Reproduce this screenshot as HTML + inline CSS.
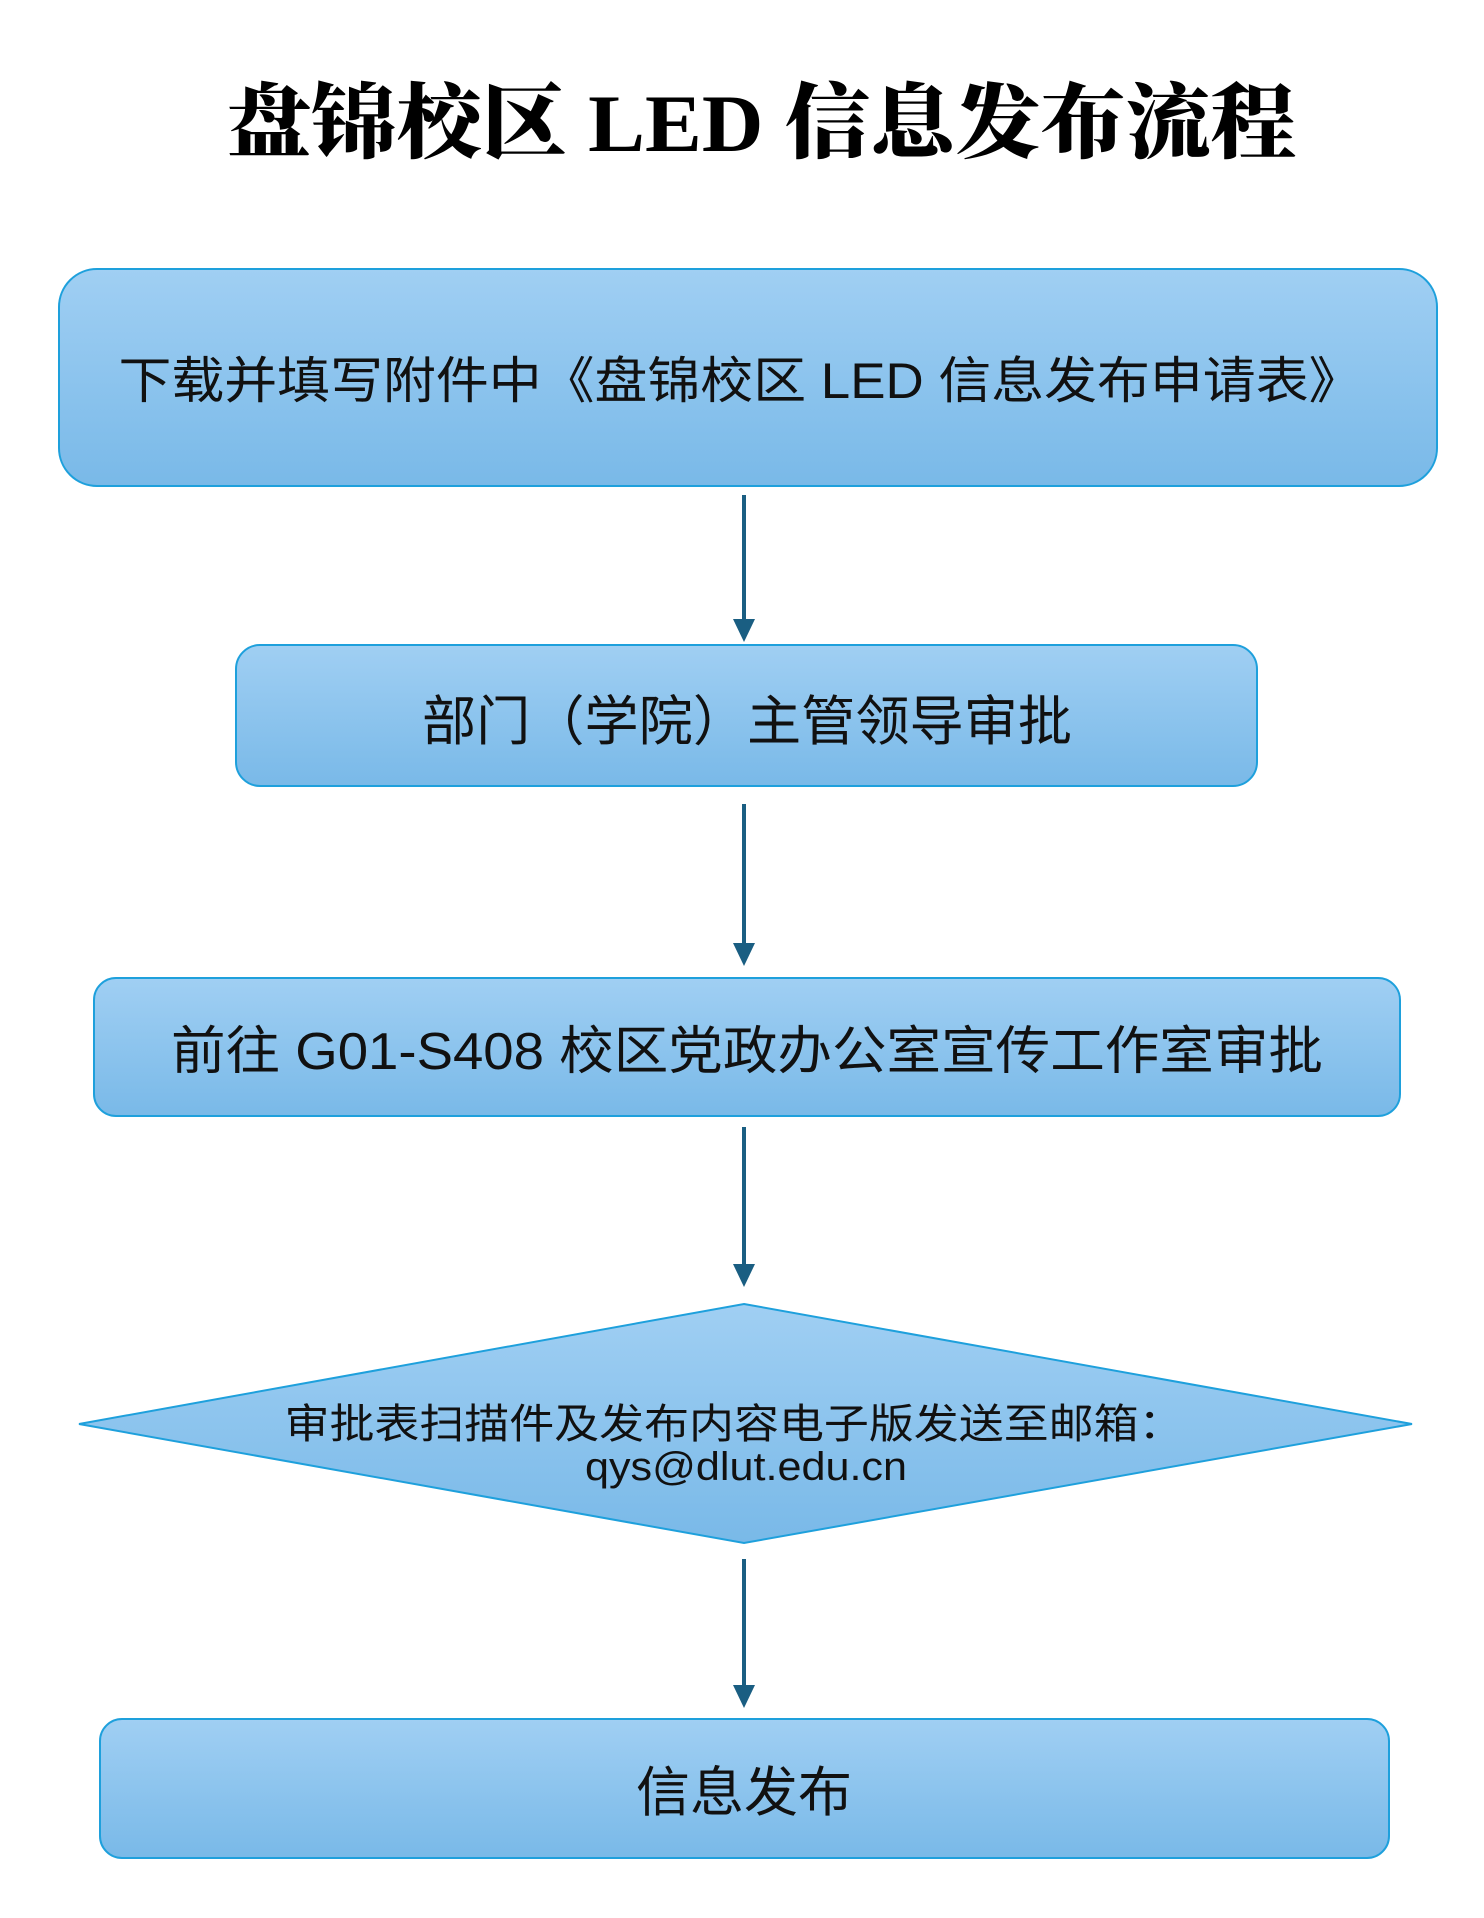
<!DOCTYPE html>
<html><head><meta charset="utf-8"><style>html,body{margin:0;padding:0;background:#fff}svg{display:block}</style></head>
<body>
<svg width="1484" height="1918" viewBox="0 0 1484 1918" xmlns="http://www.w3.org/2000/svg">
<defs>
<linearGradient id="g" x1="0" y1="0" x2="0" y2="1">
<stop offset="0" stop-color="#a0cff3"/><stop offset="1" stop-color="#79b9e8"/>
</linearGradient>
</defs>
<rect width="1484" height="1918" fill="#fff"/>
<text x="761" y="151" text-anchor="middle" font-family="'Liberation Serif','Noto Serif CJK SC',serif" font-weight="900" font-size="82" textLength="1070" lengthAdjust="spacingAndGlyphs" fill="#000">盘锦校区 LED 信息发布流程</text>

<rect x="59" y="269" width="1378" height="217" rx="38" fill="url(#g)" stroke="#1ea0dc" stroke-width="2"/>
<text x="740" y="398" text-anchor="middle" font-family="'Liberation Sans','Noto Sans CJK SC',sans-serif" font-size="50" textLength="1243" lengthAdjust="spacingAndGlyphs" fill="#111">下载并填写附件中《盘锦校区 LED 信息发布申请表》</text>

<g stroke="#1a5e82" stroke-width="4">
<line x1="744" y1="495" x2="744" y2="625"/>
<line x1="744" y1="804" x2="744" y2="948"/>
<line x1="744" y1="1127" x2="744" y2="1270"/>
<line x1="744" y1="1559" x2="744" y2="1690"/>
</g>
<g fill="#1a5e82">
<polygon points="733,619 755,619 744,642"/>
<polygon points="733,943 755,943 744,966"/>
<polygon points="733,1264 755,1264 744,1287"/>
<polygon points="733,1685 755,1685 744,1708"/>
</g>

<rect x="236" y="645" width="1021" height="141" rx="24" fill="url(#g)" stroke="#1ea0dc" stroke-width="2"/>
<text x="747" y="740" text-anchor="middle" font-family="'Liberation Sans','Noto Sans CJK SC',sans-serif" font-size="54" textLength="650" lengthAdjust="spacingAndGlyphs" fill="#111">部门（学院）主管领导审批</text>

<rect x="94" y="978" width="1306" height="138" rx="22" fill="url(#g)" stroke="#1ea0dc" stroke-width="2"/>
<text x="747" y="1069" text-anchor="middle" font-family="'Liberation Sans','Noto Sans CJK SC',sans-serif" font-size="52" textLength="1152" lengthAdjust="spacingAndGlyphs" fill="#111">前往 G01-S408 校区党政办公室宣传工作室审批</text>

<polygon points="744,1304 1412,1424 744,1543 79,1424" fill="url(#g)" stroke="#1ea0dc" stroke-width="2"/>
<text x="734" y="1438" text-anchor="middle" font-family="'Liberation Sans','Noto Sans CJK SC',sans-serif" font-size="41" textLength="899" lengthAdjust="spacingAndGlyphs" fill="#111">审批表扫描件及发布内容电子版发送至邮箱：</text>
<text x="746" y="1480" text-anchor="middle" font-family="'Liberation Sans','Noto Sans CJK SC',sans-serif" font-size="40" textLength="322" lengthAdjust="spacingAndGlyphs" fill="#111">qys@dlut.edu.cn</text>

<rect x="100" y="1719" width="1289" height="139" rx="22" fill="url(#g)" stroke="#1ea0dc" stroke-width="2"/>
<text x="744" y="1811" text-anchor="middle" font-family="'Liberation Sans','Noto Sans CJK SC',sans-serif" font-size="54" textLength="216" lengthAdjust="spacingAndGlyphs" fill="#111">信息发布</text>
</svg>
</body></html>
